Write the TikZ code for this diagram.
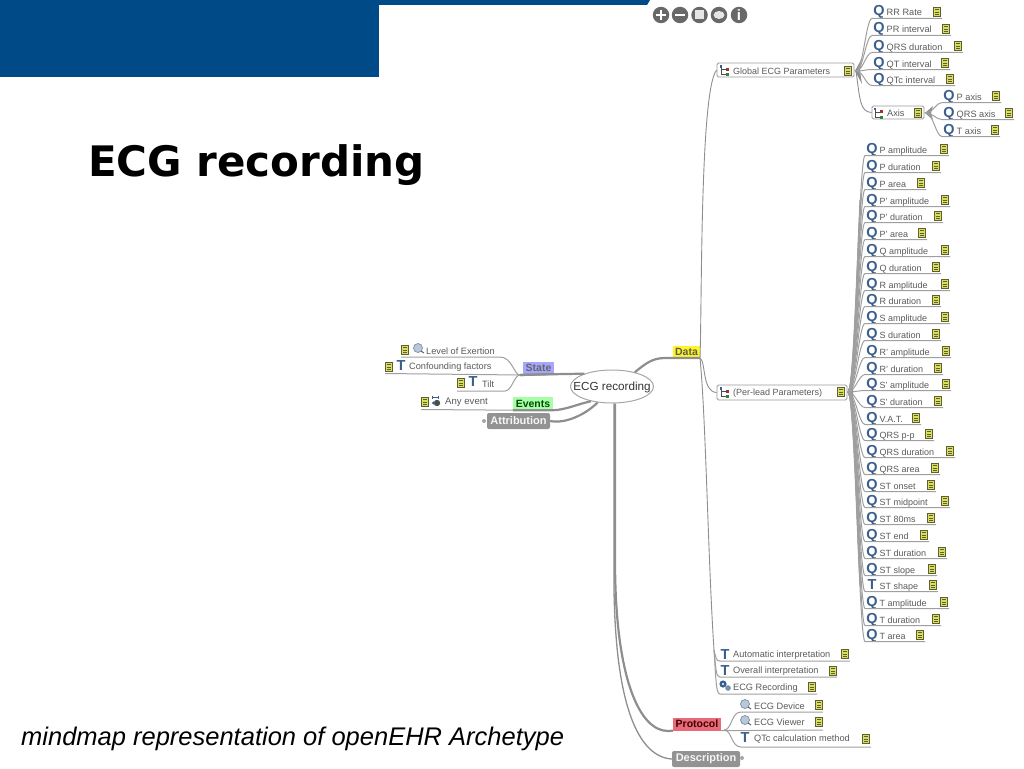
\documentclass[tikz,border=0pt]{standalone}
\usepackage{fontspec}
\setmainfont{Liberation Sans}
\newfontfamily\titlefont{DejaVu Sans}
\usetikzlibrary{shapes.geometric,calc}
\definecolor{banner}{HTML}{004B87}
\definecolor{lineg}{HTML}{8E8E8E}
\definecolor{txtg}{HTML}{5A5A5A}
\definecolor{iconb}{HTML}{3A5F8C}
\definecolor{noteg}{HTML}{D9DD60}
\definecolor{noteb}{HTML}{5E6030}
\definecolor{toolg}{HTML}{686868}
\tikzset{
  leaftext/.style={anchor=west,inner sep=0pt,text=txtg,font=\fontsize{9.2}{10}\selectfont},
  qicon/.style={anchor=center,inner sep=0pt,text=iconb,font=\fontsize{14.5}{15}\selectfont\bfseries},
  tagbox/.style={inner sep=0pt,minimum height=13pt,font=\fontsize{10.5}{11}\selectfont\bfseries,text=txtg},
  greybox/.style={inner sep=0pt,minimum height=16pt,rounded corners=2pt,fill=gray!85,text=white!92!gray,font=\fontsize{11}{12}\selectfont\bfseries},
  branch/.style={draw=lineg,line width=0.9pt},
  thickbranch/.style={draw=lineg,line width=2.2pt},
  under/.style={draw=lineg!85,line width=1pt},
  parentbox/.style={draw=gray!80,fill=white,rounded corners=1.5pt,line width=0.8pt,inner sep=0pt},
  toolbtn/.style={circle,fill=toolg,minimum size=16.5pt,inner sep=0pt},
  notepic/.pic={
    \path[fill=noteg,draw=noteb,line width=0.8pt] (-3.5,-4.5) rectangle (3.5,4.5);
    \draw[noteb,line width=0.7pt] (-2,-2.2)--(2,-2.2) (-2,0)--(2,0) (-2,2.2)--(2,2.2);
  },
  treepic/.pic={
    \draw[black!70,line width=0.7pt] (-4,-4)--(-4,4)--(2,4) (-4,-1)--(2,-1);
    \fill[iconb] (-5.5,-5.5) rectangle (-3,-3);
    \fill[red!50!black!80] (1,-3) rectangle (4,0);
    \fill[green!40!black!80] (1,2.5) rectangle (4,5.5);
  },
  lenspic/.pic={
    \fill[iconb!35] (0,0) circle (4.5pt);
    \draw[iconb!70,line width=0.7pt] (0,0) circle (4.5pt);
    \draw[black!60,line width=1pt] (3,3)--(6,5);
  },
  eventpic/.pic={
    \draw[iconb,line width=0.8pt] (-5,-5)--(1,-5) (-5,-6.5)--(-5,-3.5) (1,-6.5)--(1,-3.5);
    \fill[black!70] (0,1) circle (3.2pt);
    \fill[iconb] (-3.5,1) circle (1.6pt);
  },
  gearpic/.pic={
    \fill[iconb] (-2,-2) circle (3.6pt);
    \fill[iconb!70] (3,2) circle (2.8pt);
    \fill[white] (-2,-2) circle (1.2pt);
  },
}
% \leafnode{name}{hub}{icon letter}{text}{icon x}{y}{note x}
\newcommand{\leafnode}[7]{%
  \node[qicon,anchor=base] (#1i) at (#5,#6+5) {#3};
  \node[leaftext,anchor=base west] (#1) at (#5+7.5,#6+5) {#4};
  \pic at (#7,#6+1) {notepic};
  \coordinate (#1s) at (#5-7,#6+7.5);
  \coordinate (#1e) at (#7+5,#6+7.5);
  \draw[under] (#2) .. controls ($(#2)+(7,0)$) and ($(#1s)+(-6,0)$) .. (#1s) -- (#1e);
}
\begin{document}
\begin{tikzpicture}[x=1pt,y=-1pt]
\useasboundingbox (0,0) rectangle (1024,768);
% slide furniture
\fill[banner] (0,0) rectangle (379,77);
\fill[banner] (379,0) -- (650,0) -- (647,5) -- (379,5) -- cycle;
\node[anchor=base west,inner sep=0pt,font=\titlefont\fontsize{42}{44}\selectfont\bfseries] (title) at (88,176) {ECG recording};
\node[anchor=base west,inner sep=0pt,font=\fontsize{25.5}{27}\selectfont\itshape] (subtitle) at (21,745) {mindmap representation of openEHR Archetype};
% toolbar
\node[toolbtn] (b1) at (661,15) {}; \draw[white,line width=2.2pt] (656,15)--(666,15) (661,10)--(661,20);
\node[toolbtn] (b2) at (680,15) {}; \draw[white,line width=2.2pt] (675,15)--(685,15);
\node[toolbtn] (b3) at (699.5,15) {}; \fill[white!80!gray] (695,10.5) rectangle (704,19.5);
\node[toolbtn] (b4) at (719,15) {}; \fill[white!80!gray] (719,15) ellipse (5.5pt and 4pt);
\node[toolbtn,text=white,font=\fontsize{15}{15}\selectfont\bfseries] (b5) at (739,15) {i};
% hubs
\coordinate (hubData) at (700,358);
\coordinate (hubGlobal) at (856,71);
\coordinate (hubAxis) at (926,113);
\coordinate (hubLead) at (848,392);
\coordinate (hubState) at (520,375);
\coordinate (hubProt) at (724,730);
% main branches
\node[ellipse,draw=gray!70,line width=1pt,fill=white,minimum width=83pt,minimum height=33pt,inner sep=0pt] (root) at (612,386.5) {};
\node[fill=yellow!85!white,tagbox,minimum width=27pt] (data) at (686.5,352) {Data};
\node[fill=blue!35!white,tagbox,minimum width=31pt,text=black!60] (state) at (538.5,368) {State};
\node[fill=green!35!white,tagbox,minimum width=40pt,text=black!70!green] (events) at (533,403.5) {Events};
\node[greybox,minimum width=63pt] (attr) at (518.5,421) {Attribution};
\definecolor{protc}{HTML}{E96A78}
\node[fill=protc,tagbox,minimum width=48pt,text=black!75!red] (prot) at (697,724) {Protocol};
\node[greybox,minimum width=68pt] (desc) at (706,759) {Description};
\draw[thickbranch] (root.32) .. controls (645,364) and (652,358) .. (665,358) -- (hubData);
\draw[thickbranch] (root.south) ++(3,0) -- (615,560) .. controls (615,680) and (640,731) .. (668,731) -- (prot.south west);
\draw[branch,line width=1.3pt] (root.south) ++(2,0) -- (614,560) .. controls (612,710) and (640,757) .. (desc.west);
\draw[thickbranch] (root.155) .. controls (568,374) and (560,374) .. (hubState);
\draw[thickbranch] (root.215) .. controls (578,404) and (565,410) .. (events.south east) -- (events.south west);
\draw[thickbranch] (root.228) .. controls (585,415) and (565,424) .. (attr.east);
\fill[gray!70] (484,421) circle (2pt);
\fill[gray!70] (742,758) circle (2pt);
\node[font=\fontsize{11.7}{13}\selectfont,text=black!80,inner sep=0pt] (rootlabel) at (612,387) {ECG recording};
% data sub-branches
\node[parentbox,minimum width=137pt,minimum height=14pt] (glob) at (785.5,70) {};
\node[leaftext,font=\fontsize{9}{10}\selectfont] (globt) at (733,71.5) {Global ECG Parameters};
\pic at (725,70.5) {treepic};
\pic at (848,71) {notepic};
\node[parentbox,minimum width=130pt,minimum height=15pt] (lead) at (782,392.5) {};
\node[leaftext,font=\fontsize{9}{10}\selectfont] (leadt) at (733,393) {(Per-lead Parameters)};
\pic at (725,392.5) {treepic};
\pic at (841,392) {notepic};
\draw[branch] (hubData) .. controls (702,300) and (700,90) .. (glob.west);
\draw[branch] (hubData) .. controls (706,362) and (702,392) .. (lead.west);
\coordinate (lowsplit) at (714,650);
\draw[branch] (hubData) .. controls (706,420) and (708,560) .. (lowsplit);
% interpretation leaves
\node[qicon] (autoi) at (725,654.5) {T};
\node[leaftext] (auto) at (733,655) {Automatic interpretation};
\pic at (845,654) {notepic};
\draw[under] (lowsplit) .. controls (716,658) and (716,661) .. (720,661) -- (850,661);
\node[qicon] (ovri) at (725,671) {T};
\node[leaftext] (ovr) at (733,671) {Overall interpretation};
\pic at (833,671) {notepic};
\draw[under] (lowsplit) .. controls (716,670) and (716,677) .. (720,677) -- (837,677);
\pic at (725,686) {gearpic};
\node[leaftext] (rec) at (733,688) {ECG Recording};
\pic at (812,687) {notepic};
\draw[under] (lowsplit) .. controls (716,680) and (716,694) .. (720,694) -- (817,694);
% global group
\fill[lineg] (855,71) -- (862,58) -- (860,71) -- (862,84) -- cycle;
\leafnode{rr}{hubGlobal}{Q}{RR Rate}{879}{11}{937}
\leafnode{pr}{hubGlobal}{Q}{PR interval}{879}{28}{946}
\leafnode{qrs}{hubGlobal}{Q}{QRS duration}{879}{45}{958}
\leafnode{qt}{hubGlobal}{Q}{QT interval}{879}{62}{945}
\leafnode{qtc}{hubGlobal}{Q}{QTc interval}{879}{78}{950}
\node[parentbox,minimum width=52pt,minimum height=13pt] (axis) at (898,112.5) {};
\node[leaftext] (axist) at (887,113) {Axis};
\pic at (879,113) {treepic};
\pic at (918,113) {notepic};
\draw[branch] (hubGlobal) .. controls (860,100) and (860,112) .. (axis.west);
\draw[under] (glob.east) -- (hubGlobal);
\fill[lineg] (925,113) -- (933,106) -- (931,113) -- (933,120) -- cycle;
\draw[under] (axis.east) -- (hubAxis);
\leafnode{paxis}{hubAxis}{Q}{P axis}{949}{95}{996}
\leafnode{qrsaxis}{hubAxis}{Q}{QRS axis}{949}{112}{1009}
\leafnode{taxis}{hubAxis}{Q}{T axis}{949}{129}{995}
% per-lead group
\draw[under] (lead.east) -- (hubLead);
\fill[lineg] (848,389) .. controls (855,389) and (858,280) .. (861,200)
  -- (859.5,200) .. controls (855,300) and (853,392) .. (853,392)
  .. controls (853,392) and (855,490) .. (859.5,585)
  -- (861,585) .. controls (858,500) and (855,395) .. (848,395) -- cycle;
\begin{scope}[leaftext/.append style={font=\fontsize{9}{10}\selectfont}]
\leafnode{a1}{hubLead}{Q}{P amplitude}{872}{148}{944}
\leafnode{a2}{hubLead}{Q}{P duration}{872}{165}{936}
\leafnode{a3}{hubLead}{Q}{P area}{872}{182}{921}
\leafnode{a4}{hubLead}{Q}{P' amplitude}{872}{199}{945}
\leafnode{a5}{hubLead}{Q}{P' duration}{872}{215}{938}
\leafnode{a6}{hubLead}{Q}{P' area}{872}{232}{922}
\leafnode{a7}{hubLead}{Q}{Q amplitude}{872}{249}{945}
\leafnode{a8}{hubLead}{Q}{Q duration}{872}{266}{936}
\leafnode{a9}{hubLead}{Q}{R amplitude}{872}{283}{945}
\leafnode{a10}{hubLead}{Q}{R duration}{872}{299}{936}
\leafnode{a11}{hubLead}{Q}{S amplitude}{872}{316}{945}
\leafnode{a12}{hubLead}{Q}{S duration}{872}{333}{936}
\leafnode{a13}{hubLead}{Q}{R' amplitude}{872}{350}{946}
\leafnode{a14}{hubLead}{Q}{R' duration}{872}{367}{938}
\leafnode{a15}{hubLead}{Q}{S' amplitude}{872}{383}{946}
\leafnode{a16}{hubLead}{Q}{S' duration}{872}{400}{938}
\leafnode{a17}{hubLead}{Q}{V.A.T.}{872}{417}{916}
\leafnode{a18}{hubLead}{Q}{QRS p-p}{872}{433}{929}
\leafnode{a19}{hubLead}{Q}{QRS duration}{872}{450}{950}
\leafnode{a20}{hubLead}{Q}{QRS area}{872}{467}{935}
\leafnode{a21}{hubLead}{Q}{ST onset}{872}{484}{931}
\leafnode{a22}{hubLead}{Q}{ST midpoint}{872}{500}{945}
\leafnode{a23}{hubLead}{Q}{ST 80ms}{872}{517}{931}
\leafnode{a24}{hubLead}{Q}{ST end}{872}{534}{924}
\leafnode{a25}{hubLead}{Q}{ST duration}{872}{551}{942}
\leafnode{a26}{hubLead}{Q}{ST slope}{872}{568}{932}
\leafnode{a27}{hubLead}{T}{ST shape}{872}{584}{933}
\leafnode{a28}{hubLead}{Q}{T amplitude}{872}{601}{944}
\leafnode{a29}{hubLead}{Q}{T duration}{872}{618}{936}
\leafnode{a30}{hubLead}{Q}{T area}{872}{634}{920}
\end{scope}
% protocol group
\pic at (745,704) {lenspic};
\node[leaftext] (dev) at (754,706) {ECG Device};
\pic at (819,705) {notepic};
\pic at (745,720) {lenspic};
\node[leaftext] (view) at (754,722.5) {ECG Viewer};
\pic at (819,722) {notepic};
\node[qicon] (qci) at (745,738) {T};
\node[leaftext] (qc) at (754,739.5) {QTc calculation method};
\pic at (866,739) {notepic};
\draw[under] (hubProt) .. controls (732,730) and (731,712) .. (741,712) -- (823,712);
\draw[under] (prot.south east) -- (823,730);
\draw[under] (hubProt) .. controls (732,730) and (731,747) .. (741,747) -- (871,747);
% state group
\pic at (405,350) {notepic};
\pic at (418,348) {lenspic};
\node[leaftext] (lev) at (426,351) {Level of Exertion};
\pic at (389,367) {notepic};
\node[qicon] (confi) at (401,366) {T};
\node[leaftext] (conf) at (409,367.5) {Confounding factors};
\pic at (461,383) {notepic};
\node[qicon] (tilti) at (473,382) {T};
\node[leaftext] (tilt) at (482,384) {Tilt};
\draw[under] (hubState) .. controls (514,375) and (512,357) .. (500,357) -- (401,357);
\draw[under] (hubState) -- (385,373.5);
\draw[under] (hubState) .. controls (514,375) and (512,391) .. (505,391) -- (457,391);
\draw[thickbranch] (hubState) -- (553,374);
% events group
\pic at (425,402) {notepic};
\pic at (437,402) {eventpic};
\node[leaftext,font=\fontsize{9.6}{10}\selectfont] (evt) at (445,402.5) {Any event};
\draw[under] (events.south west) -- (421,409.5);
\end{tikzpicture}
\end{document}
